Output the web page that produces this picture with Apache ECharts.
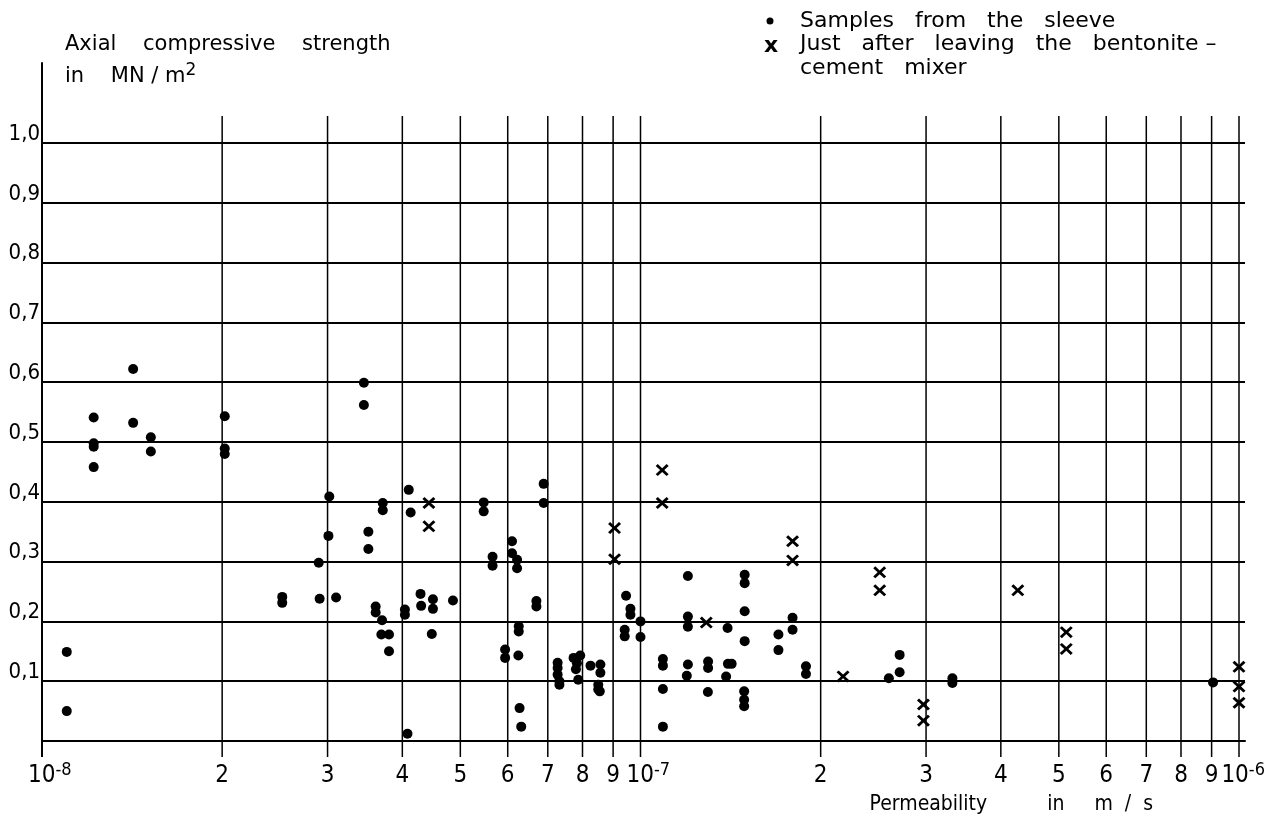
<!DOCTYPE html>
<html>
<head>
<meta charset="utf-8">
<script src="https://cdn.jsdelivr.net/npm/echarts@6/dist/echarts.min.js"></script>
<style>
html,body{margin:0;padding:0;background:#fff;}
#chart{width:1267px;height:820px;}
</style>
</head>
<body>
<div id="chart"></div>
<script>
// ---------------- data ----------------
const seriesNames = ['Samples from the sleeve', 'Just after leaving the bentonite –\ncement mixer'];

// Samples from the sleeve (dots): permeability in m/s, strength in MN/m2
const sleeveX = [
  1.10e-8, 1.10e-8, 1.22e-8, 1.22e-8, 1.22e-8, 1.22e-8, 1.42e-8, 1.42e-8, 1.52e-8, 1.52e-8,
  2.02e-8, 2.02e-8, 2.02e-8, 2.52e-8, 2.52e-8, 2.90e-8, 2.91e-8, 3.02e-8, 3.01e-8, 3.10e-8,
  3.45e-8, 3.45e-8, 3.51e-8, 3.51e-8, 3.61e-8, 3.61e-8, 3.70e-8, 3.69e-8, 3.80e-8, 3.80e-8,
  3.71e-8, 3.71e-8, 4.04e-8, 4.04e-8, 4.08e-8, 4.10e-8, 4.13e-8, 4.29e-8, 4.30e-8, 4.50e-8,
  4.50e-8, 4.48e-8, 4.86e-8, 5.47e-8, 5.47e-8, 5.66e-8, 5.66e-8, 5.94e-8, 5.94e-8, 6.10e-8,
  6.10e-8, 6.22e-8, 6.22e-8, 6.26e-8, 6.26e-8, 6.25e-8, 6.28e-8, 6.32e-8, 6.70e-8, 6.70e-8,
  6.89e-8, 6.89e-8, 7.27e-8, 7.27e-8, 7.27e-8, 7.32e-8, 7.32e-8, 7.73e-8, 7.93e-8, 7.83e-8,
  7.80e-8, 8.25e-8, 7.87e-8, 8.57e-8, 8.57e-8, 8.50e-8, 8.50e-8, 8.55e-8, 9.46e-8, 9.62e-8,
  9.62e-8, 9.41e-8, 9.41e-8, 1.00e-7, 1.00e-7, 1.09e-7, 1.09e-7, 1.09e-7, 1.09e-7, 1.20e-7,
  1.20e-7, 1.20e-7, 1.20e-7, 1.195e-7, 1.297e-7, 1.297e-7, 1.296e-7, 1.398e-7, 1.40e-7, 1.42e-7,
  1.39e-7, 1.493e-7, 1.493e-7, 1.493e-7, 1.493e-7, 1.49e-7, 1.49e-7, 1.49e-7, 1.70e-7, 1.70e-7,
  1.795e-7, 1.795e-7, 1.89e-7, 1.89e-7, 2.60e-7, 2.71e-7, 2.71e-7, 3.32e-7, 3.32e-7, 9.05e-7
];
const sleeveY = [
  0.149, 0.050, 0.541, 0.498, 0.492, 0.458, 0.622, 0.532, 0.508, 0.484,
  0.543, 0.489, 0.480, 0.241, 0.231, 0.298, 0.238, 0.409, 0.343, 0.240,
  0.599, 0.562, 0.350, 0.321, 0.225, 0.215, 0.202, 0.178, 0.178, 0.150,
  0.398, 0.386, 0.220, 0.211, 0.012, 0.420, 0.382, 0.246, 0.226, 0.237,
  0.221, 0.179, 0.235, 0.399, 0.384, 0.308, 0.293, 0.153, 0.139, 0.334,
  0.314, 0.303, 0.289, 0.192, 0.183, 0.143, 0.055, 0.024, 0.234, 0.225,
  0.430, 0.398, 0.131, 0.122, 0.111, 0.100, 0.094, 0.139, 0.143, 0.130,
  0.120, 0.126, 0.1025, 0.128, 0.114, 0.094, 0.086, 0.083, 0.243, 0.221,
  0.211, 0.186, 0.175, 0.200, 0.174, 0.137, 0.126, 0.087, 0.024, 0.276,
  0.208, 0.191, 0.128, 0.109, 0.133, 0.122, 0.082, 0.189, 0.129, 0.129,
  0.108, 0.278, 0.264, 0.217, 0.167, 0.083, 0.069, 0.058, 0.178, 0.152,
  0.206, 0.186, 0.125, 0.112, 0.105, 0.144, 0.115, 0.105, 0.097, 0.098
];

// Just after leaving the bentonite-cement mixer (crosses)
const mixerX = [
  4.43e-8, 4.43e-8, 9.05e-8, 9.05e-8, 1.087e-7, 1.087e-7, 1.288e-7, 1.795e-7, 1.795e-7, 2.18e-7,
  2.51e-7, 2.51e-7, 2.97e-7, 2.97e-7, 4.27e-7, 5.145e-7, 5.145e-7, 1.0e-6, 1.0e-6, 1.0e-6
];
const mixerY = [
  0.398, 0.359, 0.356, 0.304, 0.453, 0.398, 0.198, 0.334, 0.302, 0.108,
  0.282, 0.252, 0.061, 0.034, 0.252, 0.182, 0.154, 0.124, 0.091, 0.064
];

// x-axis grid values and their tick labels
const xGridValues = [
  1e-8, 2e-8, 3e-8, 4e-8, 5e-8, 6e-8, 7e-8, 8e-8, 9e-8,
  1e-7, 2e-7, 3e-7, 4e-7, 5e-7, 6e-7, 7e-7, 8e-7, 9e-7, 1e-6
];
const xTickLabels = [
  '10^-8', '2', '3', '4', '5', '6', '7', '8', '9',
  '10^-7', '2', '3', '4', '5', '6', '7', '8', '9', '10^-6'
];

const xAxisTitle = 'Permeability          in     m  /  s';
const yAxisTitle1 = 'Axial    compressive    strength';
const yAxisTitle2 = 'in    MN / m';
const yAxisTitleSup = '2';

// ---------------- styling ----------------
const NARROW = "'Liberation Sans Narrow','DejaVu Sans Condensed','Liberation Sans',sans-serif";
const WIDE = "'DejaVu Sans',sans-serif";
const X_PATH = 'path://M0,1.6L1.6,0L5,3.4L8.4,0L10,1.6L6.6,5L10,8.4L8.4,10L5,6.6L1.6,10L0,8.4L3.4,5Z';
const X_MAX = 1e-6 * Math.pow(10, 6 / 598.5);
const GRID_TOP_VALUE = 1.045;   // top end of the vertical grid lines
const AXIS_TOP_VALUE = 1.135;   // top end of the left axis line

function spaced(name) { return name.replace(/ (?!–)/g, '   '); }

function renderGrid(params, api) {
  const i = params.dataIndex;
  const n = params.dataInsideLength;
  const v = api.value(0);
  const b = api.coord([v, 0]);
  const t = api.coord([v, i === 0 ? AXIS_TOP_VALUE : GRID_TOP_VALUE]);
  const lbl = xTickLabels[i];
  const m = /^10\^(.+)$/.exec(lbl);
  const text = m ? '{b|10}{s|' + m[1] + '}' : '{b|' + lbl + '}';
  const last = i === n - 1;
  return {
    type: 'group',
    children: [
      {
        type: 'line',
        shape: { x1: b[0], y1: b[1] + 16, x2: t[0], y2: t[1] },
        style: { stroke: '#000', lineWidth: i === 0 ? 2 : 1.5 }
      },
      {
        type: 'text',
        x: m ? (last ? b[0] + 26 : b[0] - 14) : b[0],
        y: b[1] + 35,
        style: {
          text: text,
          align: m ? (last ? 'right' : 'left') : 'center',
          verticalAlign: 'middle',
          fill: '#000',
          rich: {
            b: { fontSize: 24, fontFamily: NARROW, fill: '#000' },
            s: { fontSize: 18, fontFamily: NARROW, fill: '#000', padding: [0, 0, 12, 0] }
          }
        }
      }
    ]
  };
}

const chart = echarts.init(document.getElementById('chart'), null, { renderer: 'canvas' });

const option = {
  animation: false,
  backgroundColor: '#fff',
  grid: { left: 42, right: 22, top: 143, bottom: 79, containLabel: false },
  graphic: [
    { type: 'circle', shape: { cx: 770, cy: 21, r: 3.5 }, style: { fill: '#000' } },
    {
      type: 'text', x: 771, y: 46,
      style: { text: 'x', align: 'center', verticalAlign: 'middle', fill: '#000', font: 'bold 22px ' + WIDE }
    },
    {
      type: 'text', x: 800, y: 21,
      style: { text: spaced(seriesNames[0]), verticalAlign: 'middle', fill: '#000', font: '22px ' + WIDE }
    },
    {
      type: 'text', x: 800, y: 33,
      style: { text: spaced(seriesNames[1]), verticalAlign: 'top', lineHeight: 23.5, fill: '#000', font: '22px ' + WIDE }
    }
  ],
  xAxis: {
    type: 'log',
    logBase: 10,
    min: 1e-8,
    max: X_MAX,
    axisLine: { show: true, lineStyle: { color: '#000', width: 2 } },
    axisTick: { show: false },
    axisLabel: { show: false },
    splitLine: { show: false },
    minorTick: { show: false },
    minorSplitLine: { show: false },
    name: xAxisTitle,
    nameLocation: 'end',
    nameGap: -92,
    nameTextStyle: {
      align: 'right', verticalAlign: 'top', padding: [52, 0, 0, 0],
      fontFamily: NARROW, fontSize: 21, lineHeight: 24, color: '#000'
    }
  },
  yAxis: {
    type: 'value',
    min: 0,
    max: 1,
    interval: 0.1,
    axisLine: { show: false },
    axisTick: { show: false },
    splitLine: { show: true, lineStyle: { color: '#000', width: 2 } },
    axisLabel: {
      formatter: function (v) { return v === 0 ? '' : v.toFixed(1).replace('.', ','); },
      margin: 2,
      verticalAlign: 'bottom',
      lineHeight: 18,
      fontSize: 22,
      fontFamily: NARROW,
      color: '#000'
    },
    name: '{t|' + yAxisTitle1 + '}\n{t|' + yAxisTitle2 + '}{s|' + yAxisTitleSup + '}',
    nameLocation: 'end',
    nameGap: 50,
    nameTextStyle: {
      align: 'left', verticalAlign: 'bottom', padding: [0, 0, 0, 23],
      rich: {
        t: { fontFamily: WIDE, fontSize: 21, lineHeight: 32, color: '#000' },
        s: { fontFamily: WIDE, fontSize: 17, color: '#000', padding: [0, 0, 12, 0] }
      }
    }
  },
  series: [
    {
      type: 'custom',
      silent: true,
      z: 1,
      clip: false,
      renderItem: renderGrid,
      encode: { x: 0, y: 1 },
      data: xGridValues.map(function (v) { return [v, 0]; })
    },
    {
      name: seriesNames[0],
      type: 'scatter',
      z: 3,
      symbol: 'circle',
      symbolSize: 10,
      itemStyle: { color: '#000', opacity: 1 },
      silent: true,
      data: sleeveX.map(function (x, i) { return [x, sleeveY[i]]; })
    },
    {
      name: seriesNames[1],
      type: 'scatter',
      z: 3,
      symbol: X_PATH,
      symbolSize: [13, 12],
      itemStyle: { color: '#000', opacity: 1 },
      silent: true,
      data: mixerX.map(function (x, i) { return [x, mixerY[i]]; })
    }
  ]
};
chart.setOption(option);
</script>
</body>
</html>
